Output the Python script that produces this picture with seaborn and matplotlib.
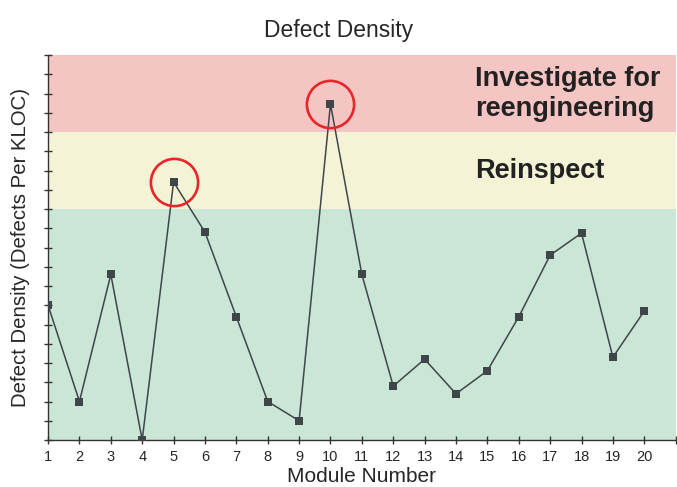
import matplotlib
matplotlib.use('Agg')
import matplotlib.pyplot as plt
import seaborn as sns
import pandas as pd

# Data
modules = list(range(1, 21))
density = [7.0, 2.0, 8.6, 0.0, 13.4, 10.8, 6.4, 2.0, 1.0, 17.45,
           8.6, 2.8, 4.2, 2.4, 3.6, 6.4, 9.6, 10.75, 4.3, 6.7]
flagged = [5, 10]

band_edges  = [0, 12, 16, 20]
band_colors = ['#CAE6D6', '#F5F3D6', '#F5C5C3']
band_labels = ['', 'Reinspect', 'Investigate for\nreengineering']

df = pd.DataFrame({'module': modules, 'density': density})
hi = df[df['module'].isin(flagged)]

sns.set_style('white')
plt.rcParams['font.family'] = ['Liberation Sans', 'DejaVu Sans']

fig = plt.figure(figsize=(6.77, 4.87), dpi=100)
ax = fig.add_axes([0.071, 0.0965, 0.927, 0.7905])

# Zone bands
for lo, top, col, lab in zip(band_edges[:-1], band_edges[1:], band_colors, band_labels):
    ax.axhspan(lo, top, color=col, zorder=0, lw=0)
    if lab:
        ax.text(14.6, (lo + top) / 2, lab, fontsize=19.5, fontweight='bold',
                color='#222222', ha='left', va='center', linespacing=1.2,
                multialignment='left')

sns.lineplot(data=df, x='module', y='density', ax=ax, color='#3f4649',
             marker='s', markersize=6, markeredgewidth=0, linewidth=1.1,
             markerfacecolor='#3f4649', zorder=3)

ax.plot(hi['module'], hi['density'], linestyle='none', marker='o',
        markersize=34, markerfacecolor='none', markeredgecolor='#E8262A',
        markeredgewidth=1.9, zorder=4)

ax.set_xlim(1, 21)
ax.set_ylim(0, 20)
ax.set_xticks(range(1, 22))
ax.set_xticklabels([str(i) for i in modules] + [''])
ax.set_yticks(range(0, 21))
ax.set_yticklabels([])
ax.tick_params(axis='both', direction='inout', length=6, width=1,
               color='#333333', labelsize=10.5, pad=4, left=True, bottom=True)

for s in ['top', 'right']:
    ax.spines[s].set_visible(False)
for s in ['left', 'bottom']:
    ax.spines[s].set_color('#333333')
    ax.spines[s].set_linewidth(1)

ax.set_xlabel('Module Number', fontsize=15, labelpad=2)
ax.set_ylabel('Defect Density (Defects Per KLOC)', fontsize=14.7, labelpad=6)
fig.suptitle('Defect Density', fontsize=16.5, y=0.96)

plt.savefig('out.png', dpi=100)
